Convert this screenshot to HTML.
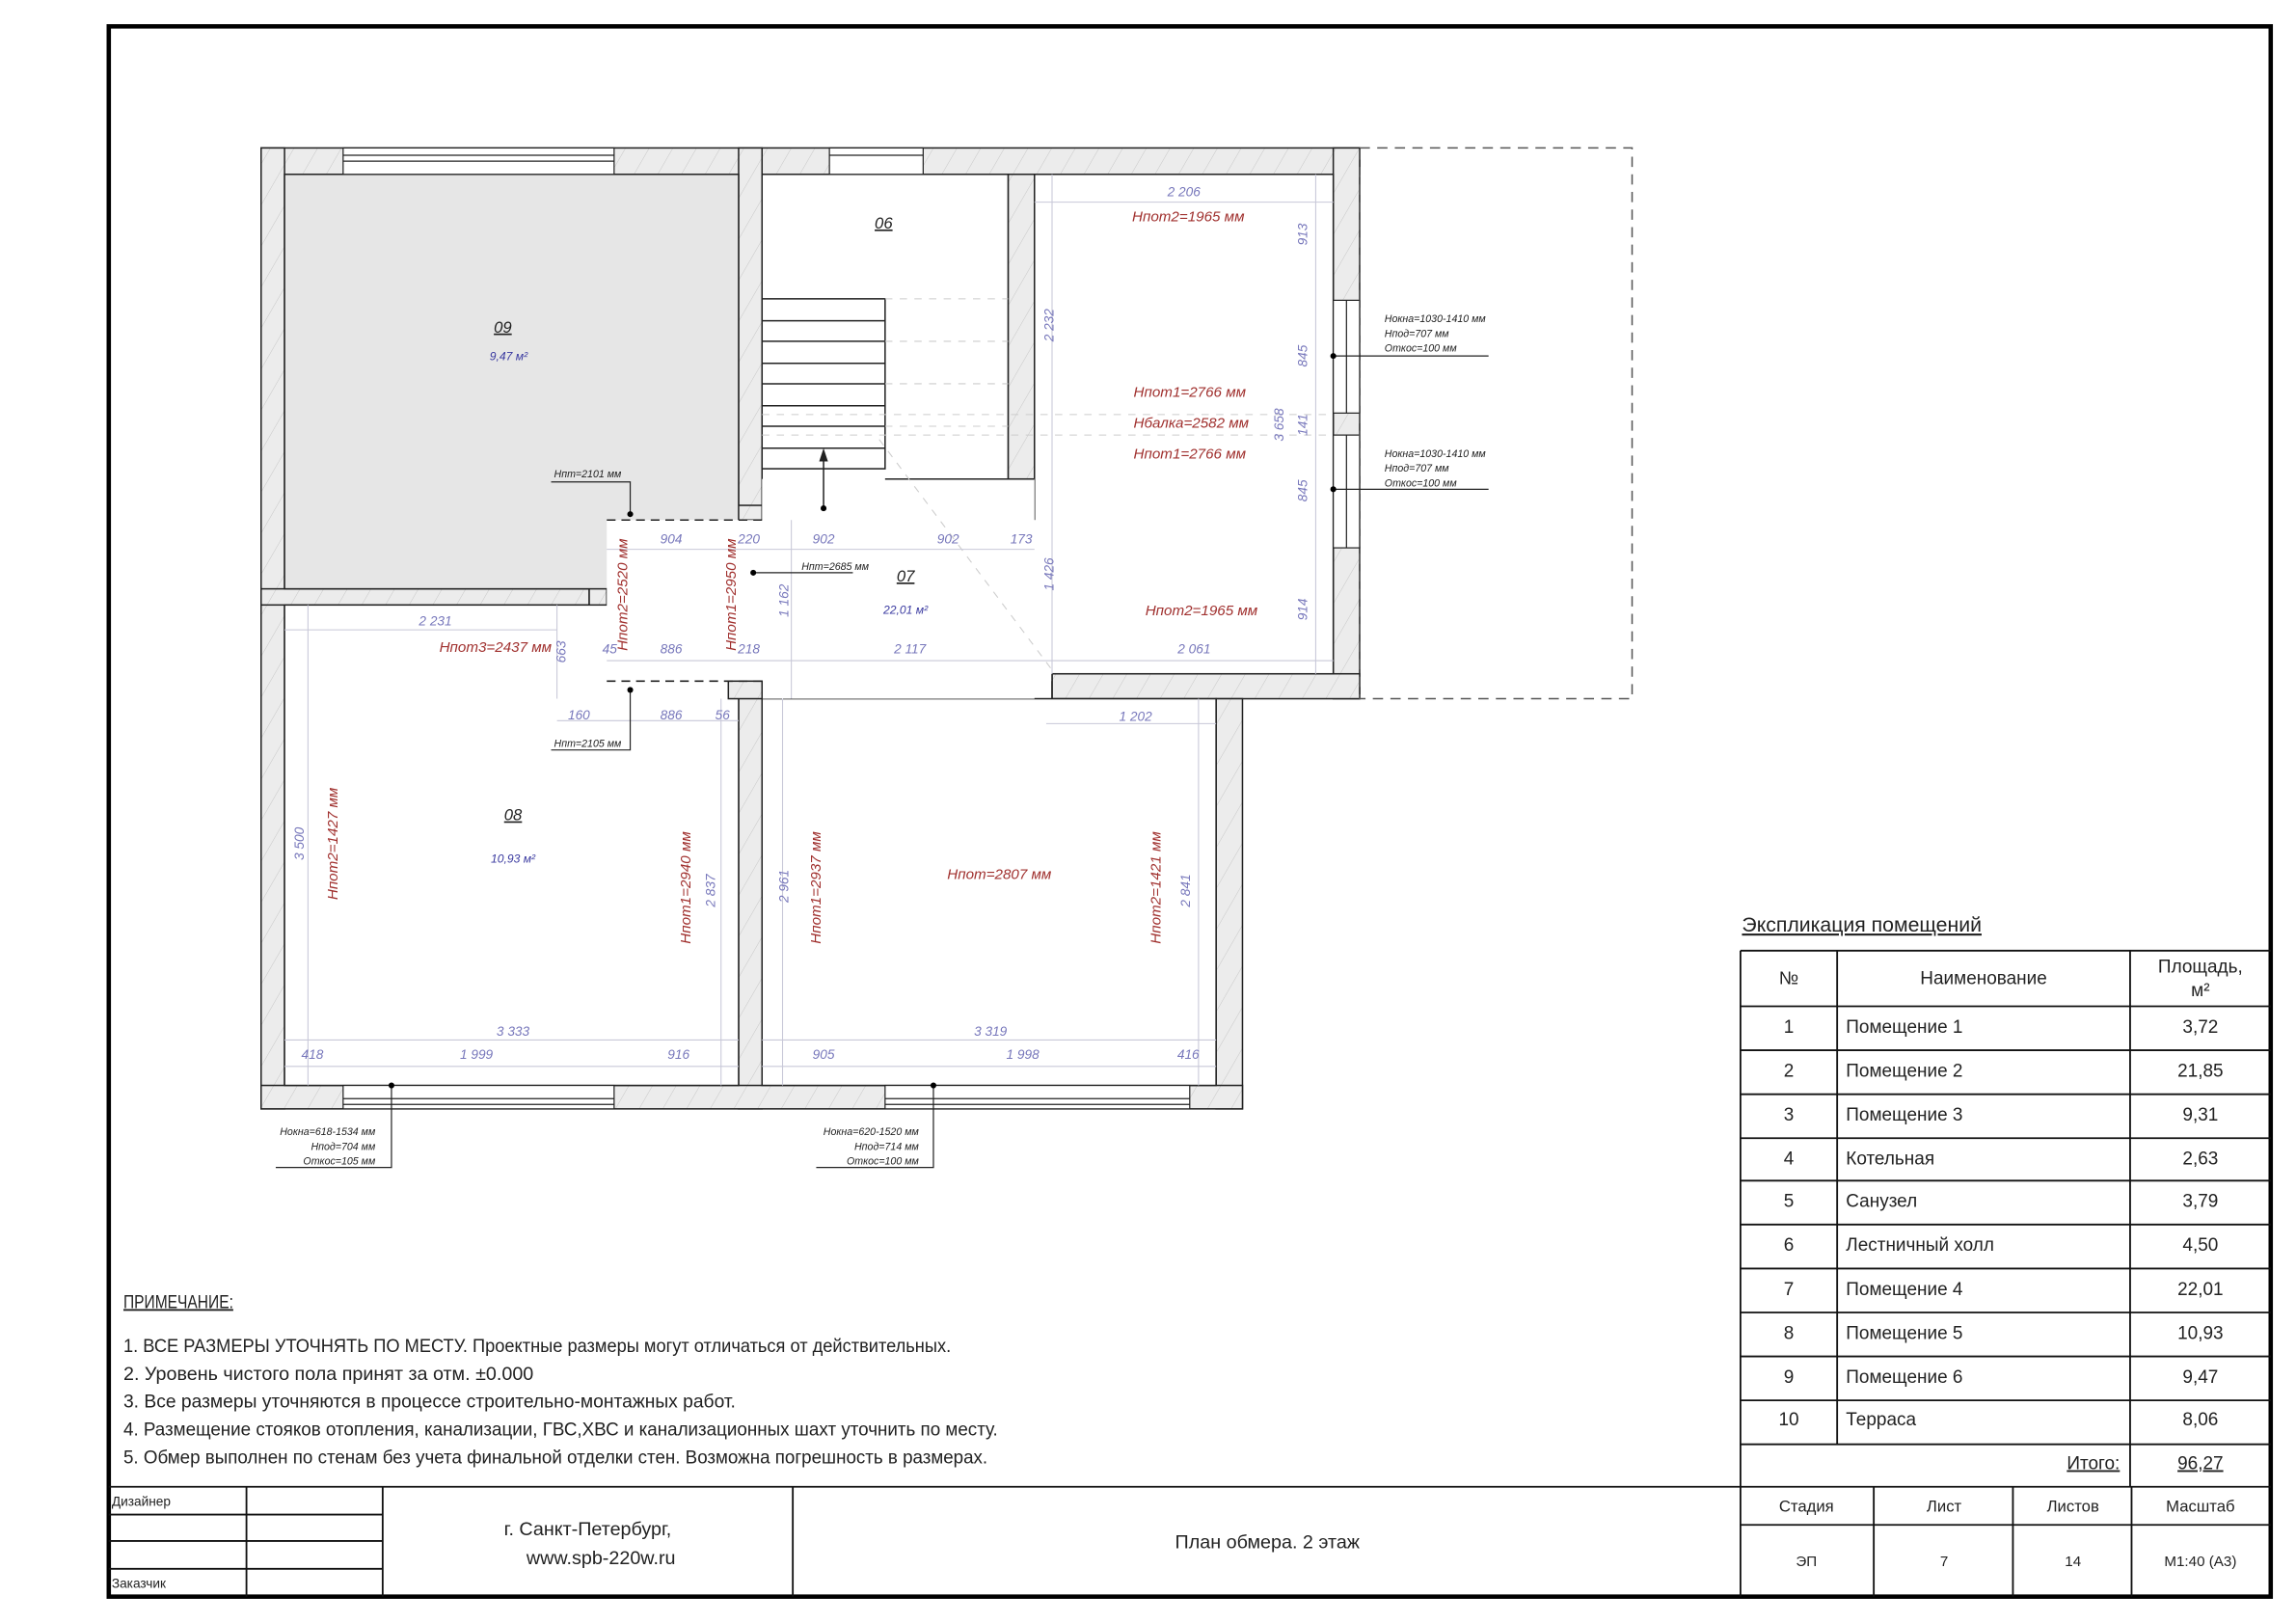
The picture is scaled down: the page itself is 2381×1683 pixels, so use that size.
<!DOCTYPE html>
<html><head><meta charset="utf-8"><style>
html,body{margin:0;padding:0;background:#fff;}
svg{display:block;}
text{font-family:"Liberation Sans Narrow","Liberation Sans","Noto Sans CJK SC",sans-serif;}
.dim{fill:#7777bb;font-size:9px;font-style:italic;}
.red{fill:#a0302e;font-size:10px;font-style:italic;}
.lab{fill:#222;font-size:7px;font-style:italic;}
.dl{stroke:#c8c8d8;stroke-width:0.7;fill:none;}
.tb{fill:#222;font-size:12px;}
</style></head><body>
<svg width="2381" height="1683" viewBox="0 0 1567 1108" xmlns="http://www.w3.org/2000/svg">
<defs>
<pattern id="h" patternUnits="userSpaceOnUse" width="14" height="14" patternTransform="rotate(30)">
<rect width="14" height="14" fill="#ececec"/><line x1="0" y1="0" x2="0" y2="14" stroke="#c4c4c4" stroke-width="0.6"/>
</pattern>
</defs>
<rect width="1567" height="1108" fill="#fff"/>
<!-- frame -->
<rect x="74" y="18" width="1476" height="1072" fill="none" stroke="#000" stroke-width="3"/>

<!-- walls -->
<g fill="url(#h)" stroke="#222" stroke-width="1">
<rect x="178" y="101" width="750" height="18"/>
<rect x="178" y="101" width="16" height="656"/>
<rect x="910" y="101" width="18" height="376"/>
<rect x="504" y="101" width="16" height="254"/>
<rect x="688" y="119" width="18" height="208"/>
<rect x="178" y="402" width="224" height="11"/>
<rect x="402" y="345" width="12" height="132"/>
<rect x="497" y="345" width="23" height="10"/>
<rect x="718" y="460" width="210" height="17"/>
<rect x="830" y="477" width="18" height="280"/>
<rect x="504" y="465" width="16" height="292"/>
<rect x="178" y="741" width="670" height="16"/>
</g>
<rect x="194" y="119" width="310" height="283" fill="#e6e6e6" stroke="#222" stroke-width="1"/>
<rect x="520" y="119" width="168" height="236" fill="#fff" stroke="#222" stroke-width="1"/>
<rect x="706" y="119" width="204" height="341" fill="#fff" stroke="#222" stroke-width="1"/>
<rect x="194" y="413" width="310" height="328" fill="#fff" stroke="#222" stroke-width="1"/>
<rect x="520" y="477" width="310" height="264" fill="#fff" stroke="#222" stroke-width="1"/>
<rect x="414" y="355" width="304" height="110" fill="#fff"/>
<rect x="520" y="327" width="186" height="150" fill="#fff"/>
<rect x="497" y="465" width="23" height="12" fill="url(#h)" stroke="#222" stroke-width="1"/>
<line x1="604" y1="327" x2="706" y2="327" stroke="#222"/>
<line x1="718" y1="460" x2="718" y2="477" stroke="#222"/>
<g stroke="#222" stroke-dasharray="6,4" stroke-width="1">
<line x1="414" y1="355" x2="520" y2="355"/>
<line x1="414" y1="465" x2="520" y2="465"/>
</g>
<g fill="#fff" stroke="#222" stroke-width="0.8">
<rect x="234" y="101" width="185" height="18"/><line x1="234" y1="106" x2="419" y2="106"/><line x1="234" y1="110" x2="419" y2="110"/>
<rect x="566" y="101" width="64" height="18"/><line x1="566" y1="106" x2="630" y2="106"/>
<rect x="234" y="741" width="185" height="16"/><line x1="234" y1="750" x2="419" y2="750"/><line x1="234" y1="754" x2="419" y2="754"/>
<rect x="604" y="741" width="208" height="16"/><line x1="604" y1="750" x2="812" y2="750"/><line x1="604" y1="754" x2="812" y2="754"/>
<rect x="910" y="205" width="18" height="77"/><line x1="919" y1="205" x2="919" y2="282"/>
<rect x="910" y="297" width="18" height="77"/><line x1="919" y1="297" x2="919" y2="374"/>
</g>
<rect x="928" y="101" width="186" height="376" fill="none" stroke="#555" stroke-dasharray="7,5" stroke-width="1"/>
<g stroke="#222" stroke-width="1" fill="none">
<rect x="520" y="204" width="84" height="116"/>
<line x1="520" y1="219" x2="604" y2="219"/><line x1="520" y1="233" x2="604" y2="233"/><line x1="520" y1="248" x2="604" y2="248"/>
<line x1="520" y1="262" x2="604" y2="262"/><line x1="520" y1="277" x2="604" y2="277"/><line x1="520" y1="291" x2="604" y2="291"/><line x1="520" y1="306" x2="604" y2="306"/>
<line x1="562" y1="347" x2="562" y2="310"/>
</g>
<polygon points="562,306 559,315 565,315" fill="#222"/>
<circle cx="562" cy="347" r="2" fill="#000"/>
<g stroke="#ccc" stroke-dasharray="5,5" stroke-width="0.7">
<line x1="604" y1="204" x2="688" y2="204"/><line x1="604" y1="233" x2="688" y2="233"/><line x1="604" y1="262" x2="688" y2="262"/><line x1="604" y1="291" x2="688" y2="291"/>
<line x1="520" y1="283" x2="910" y2="283"/><line x1="520" y1="297" x2="910" y2="297"/>
<line x1="600" y1="300" x2="720" y2="460"/>
</g>
<g class="dl">
<line x1="706" y1="138" x2="910" y2="138"/><line x1="898" y1="119" x2="898" y2="460"/><line x1="718" y1="119" x2="718" y2="460"/>
<line x1="414" y1="375" x2="706" y2="375"/><line x1="414" y1="451" x2="910" y2="451"/>
<line x1="540" y1="355" x2="540" y2="477"/>
<line x1="194" y1="430" x2="380" y2="430"/><line x1="380" y1="413" x2="380" y2="477"/><line x1="210" y1="413" x2="210" y2="741"/>
<line x1="380" y1="492" x2="504" y2="492"/><line x1="492" y1="477" x2="492" y2="741"/>
<line x1="194" y1="710" x2="504" y2="710"/><line x1="194" y1="728" x2="504" y2="728"/>
<line x1="520" y1="710" x2="830" y2="710"/><line x1="520" y1="728" x2="830" y2="728"/>
<line x1="714" y1="494" x2="830" y2="494"/><line x1="534" y1="477" x2="534" y2="741"/><line x1="818" y1="477" x2="818" y2="741"/>
</g>
<g stroke="#222" stroke-width="0.8" fill="none">
<polyline points="376,329 430,329 430,351"/>
<polyline points="376,512 430,512 430,471"/>
<line x1="514" y1="391" x2="582" y2="391"/>
<line x1="910" y1="243" x2="1016" y2="243"/><line x1="910" y1="334" x2="1016" y2="334"/>
<polyline points="188,797 267,797 267,741"/>
<polyline points="557,797 637,797 637,741"/>
</g>
<g fill="#000"><circle cx="430" cy="351" r="2"/><circle cx="430" cy="471" r="2"/><circle cx="514" cy="391" r="2"/><circle cx="910" cy="243" r="2"/><circle cx="910" cy="334" r="2"/><circle cx="267" cy="741" r="2"/><circle cx="637" cy="741" r="2"/></g>

<g font-style="italic" fill="#222">
<text x="343" y="227" font-size="11" text-decoration="underline" text-anchor="middle">09</text>
<text x="603" y="156" font-size="11" text-decoration="underline" text-anchor="middle">06</text>
<text x="618" y="397" font-size="11" text-decoration="underline" text-anchor="middle">07</text>
<text x="350" y="560" font-size="11" text-decoration="underline" text-anchor="middle">08</text>
</g>
<g fill="#3a3aa0" font-style="italic" font-size="8" text-anchor="middle">
<text x="347" y="246">9,47 м²</text><text x="618" y="419">22,01 м²</text><text x="350" y="589">10,93 м²</text>
</g>
<g class="red" text-anchor="middle">
<text x="811" y="151">Нпот2=1965 мм</text>
<text x="812" y="271">Нпот1=2766 мм</text>
<text x="813" y="292">Нбалка=2582 мм</text>
<text x="812" y="313">Нпот1=2766 мм</text>
<text x="820" y="420">Нпот2=1965 мм</text>
<text x="338" y="445">Нпот3=2437 мм</text>
<text x="682" y="600">Нпот=2807 мм</text>
<text transform="translate(428,406) rotate(-90)">Нпот2=2520 мм</text>
<text transform="translate(502,406) rotate(-90)">Нпот1=2950 мм</text>
<text transform="translate(230,576) rotate(-90)">Нпот2=1427 мм</text>
<text transform="translate(471,606) rotate(-90)">Нпот1=2940 мм</text>
<text transform="translate(560,606) rotate(-90)">Нпот1=2937 мм</text>
<text transform="translate(792,606) rotate(-90)">Нпот2=1421 мм</text>
</g>
<g class="dim" text-anchor="middle">
<text x="808" y="134">2 206</text><text x="297" y="427">2 231</text>
<text x="458" y="371">904</text><text x="511" y="371">220</text><text x="562" y="371">902</text><text x="647" y="371">902</text><text x="697" y="371">173</text>
<text x="416" y="446">45</text><text x="458" y="446">886</text><text x="511" y="446">218</text><text x="621" y="446">2 117</text><text x="815" y="446">2 061</text>
<text x="395" y="491">160</text><text x="458" y="491">886</text><text x="493" y="491">56</text><text x="775" y="492">1 202</text>
<text x="350" y="707">3 333</text><text x="676" y="707">3 319</text>
<text x="213" y="723">418</text><text x="325" y="723">1 999</text><text x="463" y="723">916</text>
<text x="562" y="723">905</text><text x="698" y="723">1 998</text><text x="811" y="723">416</text>
<text transform="translate(892,160) rotate(-90)">913</text>
<text transform="translate(892,243) rotate(-90)">845</text>
<text transform="translate(892,290) rotate(-90)">141</text>
<text transform="translate(876,290) rotate(-90)">3 658</text>
<text transform="translate(892,335) rotate(-90)">845</text>
<text transform="translate(892,416) rotate(-90)">914</text>
<text transform="translate(719,222) rotate(-90)">2 232</text>
<text transform="translate(719,392) rotate(-90)">1 426</text>
<text transform="translate(538,410) rotate(-90)">1 162</text>
<text transform="translate(386,445) rotate(-90)">663</text>
<text transform="translate(207,576) rotate(-90)">3 500</text>
<text transform="translate(488,608) rotate(-90)">2 837</text>
<text transform="translate(538,605) rotate(-90)">2 961</text>
<text transform="translate(812,608) rotate(-90)">2 841</text>
</g>
<g class="lab">
<text x="378" y="326">Нпт=2101 мм</text>
<text x="378" y="510">Нпт=2105 мм</text>
<text x="547" y="389">Нпт=2685 мм</text>
<text x="945" y="220">Нокна=1030-1410 мм</text><text x="945" y="230">Нпод=707 мм</text><text x="945" y="240">Откос=100 мм</text>
<text x="945" y="312">Нокна=1030-1410 мм</text><text x="945" y="322">Нпод=707 мм</text><text x="945" y="332">Откос=100 мм</text>
<g text-anchor="end">
<text x="256" y="775">Нокна=618-1534 мм</text><text x="256" y="785">Нпод=704 мм</text><text x="256" y="795">Откос=105 мм</text>
<text x="627" y="775">Нокна=620-1520 мм</text><text x="627" y="785">Нпод=714 мм</text><text x="627" y="795">Откос=100 мм</text>
</g>
</g>

<g fill="#222" font-size="12.5">
<text x="84" y="893" textLength="75" lengthAdjust="spacingAndGlyphs" text-decoration="underline">ПРИМЕЧАНИЕ:</text>
<text x="84" y="923" textLength="565" lengthAdjust="spacingAndGlyphs">1. ВСЕ РАЗМЕРЫ УТОЧНЯТЬ ПО МЕСТУ. Проектные размеры могут отличаться от действительных.</text>
<text x="84" y="942" textLength="280" lengthAdjust="spacingAndGlyphs">2. Уровень чистого пола  принят за отм. ±0.000</text>
<text x="84" y="961" textLength="418" lengthAdjust="spacingAndGlyphs">3. Все размеры уточняются в процессе строительно-монтажных работ.</text>
<text x="84" y="980" textLength="597" lengthAdjust="spacingAndGlyphs">4. Размещение стояков отопления, канализации, ГВС,ХВС и канализационных шахт уточнить по месту.</text>
<text x="84" y="999" textLength="590" lengthAdjust="spacingAndGlyphs">5. Обмер выполнен по стенам без учета финальной отделки стен. Возможна погрешность в размерах.</text>
</g>

<g stroke="#111" stroke-width="1.2" fill="none">
<line x1="74" y1="1015" x2="1550" y2="1015"/>
<line x1="168" y1="1015" x2="168" y2="1090"/><line x1="261" y1="1015" x2="261" y2="1090"/><line x1="541" y1="1015" x2="541" y2="1090"/>
<line x1="1188" y1="649" x2="1188" y2="1090"/>
<line x1="74" y1="1034" x2="261" y2="1034"/><line x1="74" y1="1052" x2="261" y2="1052"/><line x1="74" y1="1071" x2="261" y2="1071"/>
<line x1="1279" y1="1015" x2="1279" y2="1090"/><line x1="1374" y1="1015" x2="1374" y2="1090"/><line x1="1455" y1="1015" x2="1455" y2="1090"/>
<line x1="1188" y1="1041" x2="1550" y2="1041"/>
<line x1="1188" y1="649" x2="1550" y2="649"/>
<line x1="1254" y1="649" x2="1254" y2="986"/><line x1="1454" y1="649" x2="1454" y2="1015"/>
<line x1="1188" y1="687" x2="1550" y2="687"/><line x1="1188" y1="717" x2="1550" y2="717"/><line x1="1188" y1="747" x2="1550" y2="747"/>
<line x1="1188" y1="777" x2="1550" y2="777"/><line x1="1188" y1="806" x2="1550" y2="806"/><line x1="1188" y1="836" x2="1550" y2="836"/>
<line x1="1188" y1="866" x2="1550" y2="866"/><line x1="1188" y1="896" x2="1550" y2="896"/><line x1="1188" y1="926" x2="1550" y2="926"/>
<line x1="1188" y1="956" x2="1550" y2="956"/><line x1="1188" y1="986" x2="1550" y2="986"/>
</g>
<g fill="#222" font-size="9">
<text x="76" y="1028">Дизайнер</text><text x="76" y="1084">Заказчик</text>
</g>
<g fill="#222" text-anchor="middle">
<text x="401" y="1048" font-size="13">г. Санкт-Петербург,</text>
<text x="410" y="1068" font-size="13" font-family="Liberation Sans, sans-serif">www.spb-220w.ru</text>
<text x="865" y="1057" font-size="13">План обмера. 2 этаж</text>
<text x="1233" y="1032" font-size="11">Стадия</text><text x="1327" y="1032" font-size="11">Лист</text><text x="1415" y="1032" font-size="11">Листов</text><text x="1502" y="1032" font-size="11">Масштаб</text>
<text x="1233" y="1069" font-size="10">ЭП</text><text x="1327" y="1069" font-size="10">7</text><text x="1415" y="1069" font-size="10">14</text><text x="1502" y="1069" font-size="10">М1:40 (А3)</text>
</g>
<text x="1189" y="636" font-size="14" fill="#222" text-decoration="underline">Экспликация помещений</text>
<g fill="#222" font-size="12.5">
<g text-anchor="middle">
<text x="1221" y="672">№</text><text x="1354" y="672">Наименование</text><text x="1502" y="664">Площадь,</text><text x="1502" y="680">м²</text>
<text x="1221" y="705">1</text><text x="1221" y="735">2</text><text x="1221" y="765">3</text><text x="1221" y="795">4</text><text x="1221" y="824">5</text>
<text x="1221" y="854">6</text><text x="1221" y="884">7</text><text x="1221" y="914">8</text><text x="1221" y="944">9</text><text x="1221" y="973">10</text>
<text x="1502" y="705">3,72</text><text x="1502" y="735">21,85</text><text x="1502" y="765">9,31</text><text x="1502" y="795">2,63</text><text x="1502" y="824">3,79</text>
<text x="1502" y="854">4,50</text><text x="1502" y="884">22,01</text><text x="1502" y="914">10,93</text><text x="1502" y="944">9,47</text><text x="1502" y="973">8,06</text>
<text x="1502" y="1003" text-decoration="underline">96,27</text>
</g>
<text x="1260" y="705">Помещение 1</text><text x="1260" y="735">Помещение 2</text><text x="1260" y="765">Помещение 3</text><text x="1260" y="795">Котельная</text>
<text x="1260" y="824">Санузел</text><text x="1260" y="854">Лестничный холл</text><text x="1260" y="884">Помещение 4</text><text x="1260" y="914">Помещение 5</text>
<text x="1260" y="944">Помещение 6</text><text x="1260" y="973">Терраса</text>
<text x="1447" y="1003" text-anchor="end" text-decoration="underline">Итого:</text>
</g>
</svg>
</body></html>
